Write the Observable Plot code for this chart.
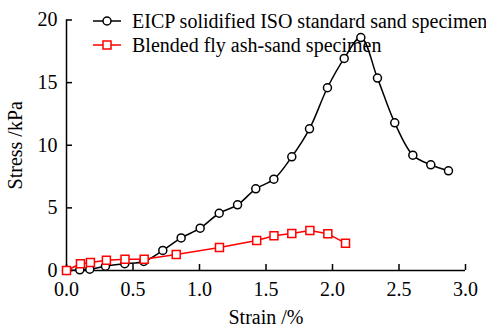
<!DOCTYPE html>
<html>
<head>
<meta charset="utf-8">
<script src="https://cdn.jsdelivr.net/npm/d3@7"></script>
<script src="https://cdn.jsdelivr.net/npm/@observablehq/plot@0.6"></script>
<style>
  html, body { margin: 0; padding: 0; background: #fff; }
  #chart { width: 486px; height: 326px; }
</style>
</head>
<body>
<div id="chart"></div>
<script>
const seriesNames = ["EICP solidified ISO standard sand specimen", "Blended fly ash-sand specimen"];

const eicpStrain = [0, 0.10, 0.175, 0.293, 0.438, 0.581, 0.724, 0.862, 1.005, 1.148, 1.286, 1.423, 1.559, 1.694, 1.827, 1.962, 2.088, 2.213, 2.338, 2.468, 2.604, 2.739, 2.872];
const eicpStress = [0, 0.05, 0.10, 0.34, 0.54, 0.72, 1.60, 2.60, 3.38, 4.57, 5.24, 6.52, 7.29, 9.08, 11.31, 14.59, 16.93, 18.60, 15.36, 11.79, 9.21, 8.44, 7.96];

const flyStrain = [0, 0.105, 0.18, 0.30, 0.44, 0.584, 0.825, 1.15, 1.43, 1.56, 1.694, 1.83, 1.965, 2.098];
const flyStress = [0, 0.54, 0.64, 0.82, 0.90, 0.90, 1.28, 1.84, 2.40, 2.77, 2.95, 3.19, 2.93, 2.18];

const xTicks = [0, 0.5, 1.0, 1.5, 2.0, 2.5, 3.0];
const yTicks = [0, 5, 10, 15, 20];
const xLabel = "Strain /%";
const yLabel = "Stress /kPa";

const eicp = eicpStrain.map((x, i) => ({x, y: eicpStress[i]}));
const fly = flyStrain.map((x, i) => ({x, y: flyStress[i]}));

const W = 486, H = 326;
const mL = 66, mR = 21, mT = 19.5, mB = 56;
const xDomain = [0, 3], yDomain = [0, 20];
const tickPx = 6;
// inward tick lengths converted into data units
const yTickLen = tickPx * (yDomain[1] - yDomain[0]) / (H - mT - mB);
const xTickLen = tickPx * (xDomain[1] - xDomain[0]) / (W - mL - mR);

const chart = Plot.plot({
  width: W,
  height: H,
  marginLeft: mL,
  marginRight: mR,
  marginTop: mT,
  marginBottom: mB,
  style: {fontFamily: "'Liberation Serif', 'Times New Roman', serif", fontSize: "20px", color: "#000", background: "#fff"},
  x: {domain: xDomain},
  y: {domain: yDomain},
  marks: [
    Plot.axisX({ticks: xTicks, tickFormat: d3.format(".1f"), tickSize: 0, tickPadding: 11, label: xLabel, labelAnchor: "center", labelOffset: 53, labelArrow: "none"}),
    Plot.axisY({ticks: yTicks, tickFormat: d => String(d), tickSize: 0, tickPadding: 9, label: yLabel, labelAnchor: "center", labelOffset: 59, labelArrow: "none"}),
    Plot.ruleX(xTicks, {x: d => d, y1: yDomain[0], y2: yDomain[0] + yTickLen, stroke: "#000", strokeWidth: 1.5}),
    Plot.ruleY(yTicks, {y: d => d, x1: xDomain[0], x2: xDomain[0] + xTickLen, stroke: "#000", strokeWidth: 1.5}),
    Plot.ruleY([yDomain[0]], {stroke: "#000", strokeWidth: 1.5}),
    Plot.ruleX([xDomain[0]], {stroke: "#000", strokeWidth: 1.5}),
    Plot.line(eicp, {x: "x", y: "y", stroke: "#000", strokeWidth: 1.5, curve: "catmull-rom"}),
    Plot.dot(eicp, {x: "x", y: "y", r: 4, stroke: "#000", strokeWidth: 1.5, fill: "#fff"}),
    Plot.line(fly, {x: "x", y: "y", stroke: "#ff0000", strokeWidth: 1.5}),
    Plot.dot(fly, {x: "x", y: "y", r: 4.5, symbol: "square", stroke: "#ff0000", strokeWidth: 1.5, fill: "#fff"})
  ]
});
document.getElementById("chart").appendChild(chart);

// Legend inside plot area (top-left)
const svg = d3.select(chart);
const legend = svg.append("g")
  .attr("font-family", "'Liberation Serif', 'Times New Roman', serif")
  .attr("font-size", 20)
  .attr("text-anchor", "start");
const rows = [
  {name: seriesNames[0], color: "#000", shape: "circle", y: 21},
  {name: seriesNames[1], color: "#ff0000", shape: "square", y: 45}
];
rows.forEach(r => {
  legend.append("line").attr("x1", 93).attr("x2", 121).attr("y1", r.y).attr("y2", r.y)
    .attr("stroke", r.color).attr("stroke-width", 1.5);
  if (r.shape === "circle") {
    legend.append("circle").attr("cx", 107).attr("cy", r.y).attr("r", 4)
      .attr("fill", "#fff").attr("stroke", r.color).attr("stroke-width", 1.5);
  } else {
    legend.append("rect").attr("x", 103).attr("y", r.y - 4).attr("width", 8).attr("height", 8)
      .attr("fill", "#fff").attr("stroke", r.color).attr("stroke-width", 1.5);
  }
  legend.append("text").attr("x", 132).attr("y", r.y).attr("dy", "0.35em")
    .attr("text-anchor", "start").attr("fill", "#000").text(r.name);
});
</script>
</body>
</html>
